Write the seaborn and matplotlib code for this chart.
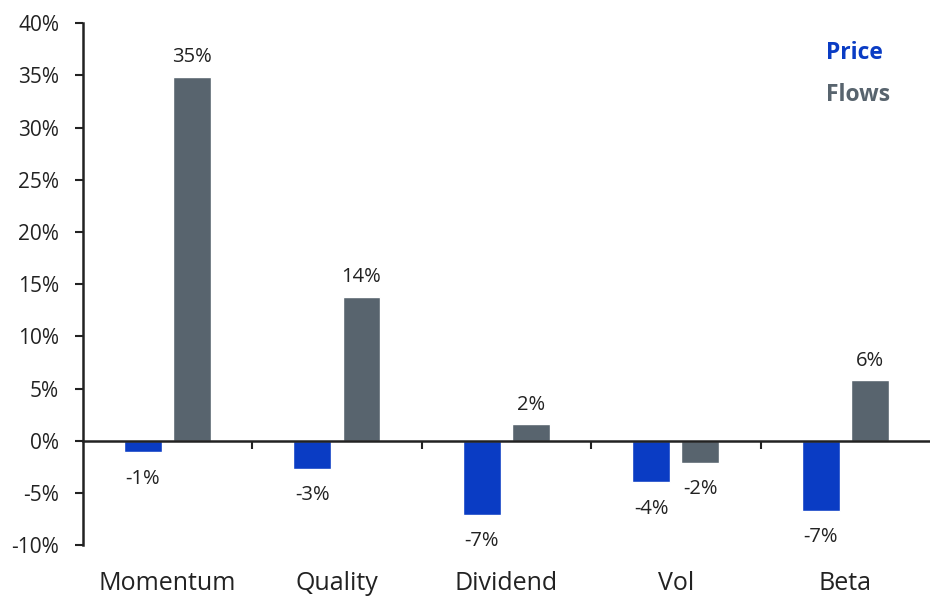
import matplotlib
matplotlib.use("Agg")
import matplotlib.pyplot as plt
import seaborn as sns
import pandas as pd
from matplotlib.ticker import FixedLocator, FuncFormatter

categories = ["Momentum", "Quality", "Dividend", "Vol", "Beta"]
price = [-1.1, -2.7, -7.1, -4.0, -6.7]
flows = [34.9, 13.8, 1.6, -2.1, 5.8]
price_labels = ["-1%", "-3%", "-7%", "-4%", "-7%"]
flows_labels = ["35%", "14%", "2%", "-2%", "6%"]
series = ["Price", "Flows"]
yticks = [-10, -5, 0, 5, 10, 15, 20, 25, 30, 35, 40]

colors = {"Price": "#0A3CC4", "Flows": "#58646E"}

sns.set_theme(style="white")
plt.rcParams["font.family"] = ["Open Sans", "DejaVu Sans"]

df = pd.DataFrame({
    "category": categories * 2,
    "value": price + flows,
    "series": ["Price"] * len(categories) + ["Flows"] * len(categories),
})

fig = plt.figure(figsize=(9.30, 5.97), dpi=100)
ax = fig.add_axes([0.089, 0.087, 0.911, 0.874])

sns.barplot(data=df, x="category", y="value", hue="series", hue_order=series,
            order=categories, palette=colors, width=0.58, gap=0.23,
            saturation=1, ax=ax, legend=False, errorbar=None)

ax.set_ylim(-10, 40)
ax.set_xlim(-0.5, 4.5)
ax.set_xlabel("")
ax.set_ylabel("")

# y axis
ax.yaxis.set_major_locator(FixedLocator(yticks))
ax.yaxis.set_major_formatter(FuncFormatter(lambda v, p: f"{int(v)}%"))
ax.tick_params(axis="y", which="major", direction="out", length=6, width=1.5,
               color="#222222", pad=11, labelsize=15, labelcolor="#222222", left=True)
ax.spines["left"].set_linewidth(1.8)
ax.spines["left"].set_color("#222222")

# x axis at zero
ax.spines["bottom"].set_position(("data", 0))
ax.spines["bottom"].set_linewidth(1.8)
ax.spines["bottom"].set_color("#222222")
for s in ["top", "right"]:
    ax.spines[s].set_visible(False)
ax.set_xticks(range(len(categories)))
ax.set_xticklabels(categories)
ax.set_xticks([i + 0.5 for i in range(len(categories) - 1)], minor=True)
ax.tick_params(axis="x", which="major", length=0, pad=94, labelsize=18, labelcolor="#222222")
ax.tick_params(axis="x", which="minor", direction="out", length=6, width=1.5,
               color="#222222", bottom=True)

# value labels
containers = ax.containers
for cont, labels in zip(containers, [price_labels, flows_labels]):
    for bar, lab in zip(cont, labels):
        h = bar.get_height()
        xc = bar.get_x() + bar.get_width() / 2
        off = 14 if h >= 0 else -19
        ax.annotate(lab, (xc, h), xytext=(0, off), textcoords="offset points",
                    ha="center", va="center", fontsize=14.5, color="#222222")

# legend as colored text
for i, name in enumerate(series):
    ax.text(0.877, 0.9425 - i * 0.0805, name, transform=ax.transAxes,
            color=colors[name], fontsize=16.5, fontweight="bold", ha="left", va="center")

fig.savefig("out.png", dpi=100)
